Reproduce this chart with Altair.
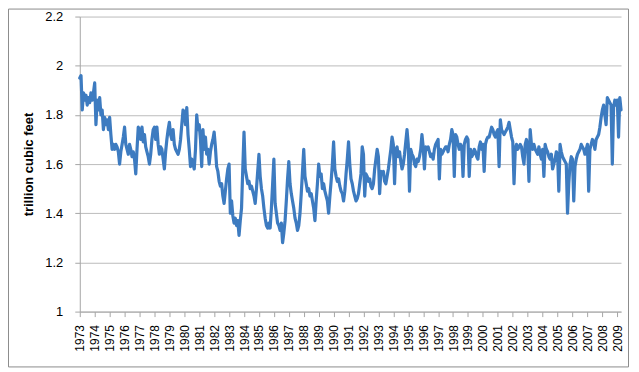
import altair as alt
import pandas as pd

# Monthly values (trillion cubic feet), Jan 1973 .. Apr 2009
v1973 = [1.95, 1.96, 1.82, 1.89, 1.86, 1.88, 1.84, 1.87, 1.85, 1.89, 1.86, 1.89]
v1974 = [1.93, 1.76, 1.86, 1.82, 1.87, 1.80, 1.82, 1.74, 1.79, 1.76, 1.78, 1.74]
v1975 = [1.79, 1.72, 1.66, 1.68, 1.66, 1.68, 1.67, 1.65, 1.60, 1.65, 1.68, 1.71]
v1976 = [1.75, 1.68, 1.66, 1.64, 1.68, 1.66, 1.63, 1.65, 1.62, 1.56, 1.66, 1.75]
v1977 = [1.74, 1.70, 1.75, 1.69, 1.72, 1.67, 1.65, 1.63, 1.60, 1.64, 1.70, 1.74]
v1978 = [1.75, 1.70, 1.75, 1.68, 1.64, 1.67, 1.66, 1.62, 1.58, 1.65, 1.70, 1.74]
v1979 = [1.77, 1.72, 1.70, 1.74, 1.68, 1.66, 1.65, 1.64, 1.66, 1.70, 1.76, 1.82]
v1980 = [1.81, 1.76, 1.83, 1.72, 1.66, 1.59, 1.62, 1.60, 1.58, 1.66, 1.80, 1.74]
v1981 = [1.76, 1.70, 1.59, 1.74, 1.66, 1.71, 1.64, 1.66, 1.60, 1.65, 1.68, 1.70]
v1982 = [1.73, 1.67, 1.59, 1.57, 1.53, 1.51, 1.52, 1.47, 1.44, 1.49, 1.54, 1.58]
v1983 = [1.60, 1.40, 1.45, 1.39, 1.36, 1.38, 1.35, 1.37, 1.31, 1.37, 1.42, 1.58]
v1984 = [1.73, 1.58, 1.55, 1.52, 1.53, 1.50, 1.51, 1.49, 1.47, 1.44, 1.50, 1.57]
v1985 = [1.64, 1.55, 1.50, 1.47, 1.42, 1.38, 1.35, 1.34, 1.36, 1.34, 1.42, 1.52]
v1986 = [1.62, 1.44, 1.40, 1.36, 1.35, 1.33, 1.36, 1.28, 1.32, 1.37, 1.45, 1.54]
v1987 = [1.61, 1.52, 1.48, 1.45, 1.42, 1.38, 1.36, 1.33, 1.35, 1.40, 1.48, 1.57]
v1988 = [1.66, 1.55, 1.52, 1.49, 1.50, 1.47, 1.48, 1.45, 1.42, 1.37, 1.45, 1.52]
v1989 = [1.60, 1.55, 1.56, 1.50, 1.52, 1.49, 1.47, 1.45, 1.40, 1.47, 1.53, 1.60]
v1990 = [1.69, 1.58, 1.55, 1.53, 1.54, 1.51, 1.49, 1.48, 1.45, 1.49, 1.56, 1.62]
v1991 = [1.69, 1.60, 1.54, 1.52, 1.49, 1.47, 1.45, 1.46, 1.48, 1.52, 1.56, 1.67]
v1992 = [1.64, 1.47, 1.56, 1.55, 1.53, 1.54, 1.51, 1.50, 1.52, 1.58, 1.62, 1.66]
v1993 = [1.63, 1.48, 1.57, 1.56, 1.57, 1.53, 1.52, 1.55, 1.58, 1.62, 1.66, 1.71]
v1994 = [1.68, 1.52, 1.66, 1.67, 1.63, 1.65, 1.61, 1.58, 1.60, 1.64, 1.69, 1.74]
v1995 = [1.68, 1.49, 1.66, 1.64, 1.63, 1.60, 1.59, 1.62, 1.61, 1.63, 1.66, 1.72]
v1996 = [1.67, 1.58, 1.67, 1.66, 1.67, 1.65, 1.63, 1.64, 1.62, 1.66, 1.68, 1.69]
v1997 = [1.70, 1.54, 1.66, 1.64, 1.65, 1.66, 1.67, 1.67, 1.65, 1.68, 1.70, 1.74]
v1998 = [1.72, 1.55, 1.72, 1.71, 1.68, 1.66, 1.68, 1.67, 1.55, 1.68, 1.70, 1.71]
v1999 = [1.70, 1.55, 1.66, 1.63, 1.64, 1.66, 1.65, 1.63, 1.62, 1.67, 1.69, 1.66]
v2000 = [1.68, 1.57, 1.68, 1.70, 1.71, 1.71, 1.73, 1.75, 1.74, 1.72, 1.71, 1.73]
v2001 = [1.74, 1.59, 1.78, 1.74, 1.73, 1.72, 1.73, 1.74, 1.75, 1.77, 1.74, 1.71]
v2002 = [1.69, 1.52, 1.66, 1.68, 1.66, 1.67, 1.68, 1.67, 1.63, 1.60, 1.68, 1.70]
v2003 = [1.67, 1.53, 1.74, 1.68, 1.66, 1.68, 1.66, 1.65, 1.64, 1.67, 1.64, 1.62]
v2004 = [1.66, 1.55, 1.68, 1.66, 1.65, 1.63, 1.62, 1.64, 1.58, 1.60, 1.62, 1.65]
v2005 = [1.64, 1.49, 1.68, 1.65, 1.63, 1.62, 1.61, 1.60, 1.40, 1.52, 1.60, 1.63]
v2006 = [1.62, 1.45, 1.59, 1.62, 1.64, 1.65, 1.66, 1.68, 1.67, 1.66, 1.64, 1.66]
v2007 = [1.68, 1.49, 1.66, 1.68, 1.70, 1.69, 1.66, 1.70, 1.71, 1.72, 1.75, 1.79]
v2008 = [1.82, 1.84, 1.80, 1.76, 1.87, 1.86, 1.85, 1.84, 1.60, 1.83, 1.86, 1.84]
v2009 = [1.86, 1.71, 1.87, 1.82]

years = list(range(1973, 2010))
series = [v1973, v1974, v1975, v1976, v1977, v1978, v1979, v1980, v1981, v1982,
          v1983, v1984, v1985, v1986, v1987, v1988, v1989, v1990, v1991, v1992,
          v1993, v1994, v1995, v1996, v1997, v1998, v1999, v2000, v2001, v2002,
          v2003, v2004, v2005, v2006, v2007, v2008, v2009]
y_ticks = [1, 1.2, 1.4, 1.6, 1.8, 2, 2.2]
y_title = "trillion cubic feet"

rows = []
for yr, vals in zip(years, series):
    for m, v in enumerate(vals):
        rows.append({"t": yr + m / 12.0, "v": v})
df = pd.DataFrame(rows)

FONT = "Liberation Sans"

line = alt.Chart(df).mark_line(
    color="#3d7bc0", strokeWidth=3.2, strokeJoin="round", strokeCap="round"
).encode(
    x=alt.X(
        "t:Q",
        scale=alt.Scale(domain=[1973, 2009.25], nice=False, zero=False),
        axis=alt.Axis(
            values=years, format="d", labelAngle=270, labelOverlap=False,
            labelFlush=False, grid=False, tickSize=5, labelPadding=8,
            domainColor="#a6a6a6", tickColor="#a6a6a6", labelFont=FONT,
            labelFontSize=12, labelColor="#000000", title=None,
        ),
    ),
    y=alt.Y(
        "v:Q",
        scale=alt.Scale(domain=[1, 2.2], nice=False, zero=False),
        axis=alt.Axis(
            values=y_ticks, format="~g", grid=True, gridColor="#bcbcbc",
            tickSize=5, labelPadding=12, domainColor="#a6a6a6",
            tickColor="#a6a6a6", labelFont=FONT, labelFontSize=13,
            labelColor="#000000", title=y_title, titleFont=FONT,
            titleFontSize=13, titleFontWeight="bold", titleColor="#000000",
            titleX=-51, titleY=148, titleAngle=270, titleAlign="center",
            titleBaseline="middle",
        ),
    ),
)

# chart-area frame (decoration only)
border = alt.Chart(pd.DataFrame({"a": [0]})).mark_rect(
    fillOpacity=0, stroke="#8c8c8c", strokeWidth=1
).encode(
    x=alt.value(-71.5), x2=alt.value(550.5), y=alt.value(-7.5), y2=alt.value(351.5)
)

chart = alt.layer(border, line).properties(
    width=543, height=296,
    autosize=alt.AutoSizeParams(type="none"),
    padding={"left": 72, "top": 8, "right": 10, "bottom": 58},
).configure_view(strokeOpacity=0)

chart.save("out.html", embed_options={"renderer": "svg", "actions": False})
